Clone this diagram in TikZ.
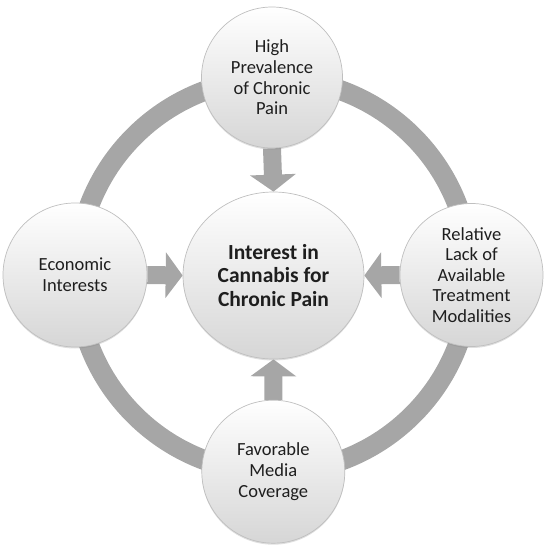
\documentclass[tikz,border=0pt]{standalone}
\usepackage{fontspec}
\setmainfont{Carlito}
\usetikzlibrary{arrows.meta,shapes.geometric,shadows}
\definecolor{ringgray}{HTML}{A6A6A6}
\definecolor{edgegray}{HTML}{BFBFBF}
\definecolor{botgray}{HTML}{D6D6D6}
\definecolor{txt}{HTML}{1E1E1E}
\pgfdeclarelayer{background}
\pgfsetlayers{background,main}
\tikzset{
  bubble/.style={circle, draw=edgegray, line width=0.7pt, inner sep=0pt,
    top color=white, middle color=white, bottom color=botgray,
    drop shadow={shadow xshift=0pt, shadow yshift=-1.5pt, opacity=0.25},
    align=center, text=txt, font=\fontsize{18.5}{20.6}\selectfont},
  hub/.style={ellipse, draw=edgegray, line width=0.7pt, inner sep=0pt,
    minimum width=181pt, minimum height=167pt,
    top color=white, middle color=white, bottom color=botgray,
    drop shadow={shadow xshift=0pt, shadow yshift=-1.5pt, opacity=0.25},
    align=center, text=txt, font=\fontsize{21.5}{23.3}\selectfont\bfseries},
  ring/.style={draw=ringgray, line width=20pt},
  bigarrow/.style={draw=ringgray, line width=18pt,
    -{Triangle[width=45pt, length=17pt]}, shorten >=0pt},
}
\begin{document}
\begin{tikzpicture}[x=1pt, y=-1pt]
\useasboundingbox (0,0) rectangle (550,549);
\node[hub] (ctr) at (273.5,275.5) {Interest in\\Cannabis for\\Chronic Pain};
\node[bubble, minimum size=141pt] (top) at (272,77.5) {High\\Prevalence\\of Chronic\\Pain};
\node[bubble, minimum size=144pt] (left) at (75,275) {Economic\\Interests};
\node[bubble, minimum size=143pt] (right) at (471.5,275) {Relative\\Lack of\\Available\\Treatment\\Modalities};
\node[bubble, minimum size=143pt] (bot) at (273.3,471.7) {Favorable\\Media\\Coverage};
\begin{pgfonlayer}{background}
  \draw[ring] (ctr.center) circle[radius=197pt];
  \draw[bigarrow] (top.south) -- (ctr.north);
  \draw[bigarrow] (left.east) -- (ctr.west);
  \draw[bigarrow] (right.west) -- (ctr.east);
  \draw[bigarrow] (bot.north) -- (ctr.south);
\end{pgfonlayer}
\end{tikzpicture}
\end{document}
